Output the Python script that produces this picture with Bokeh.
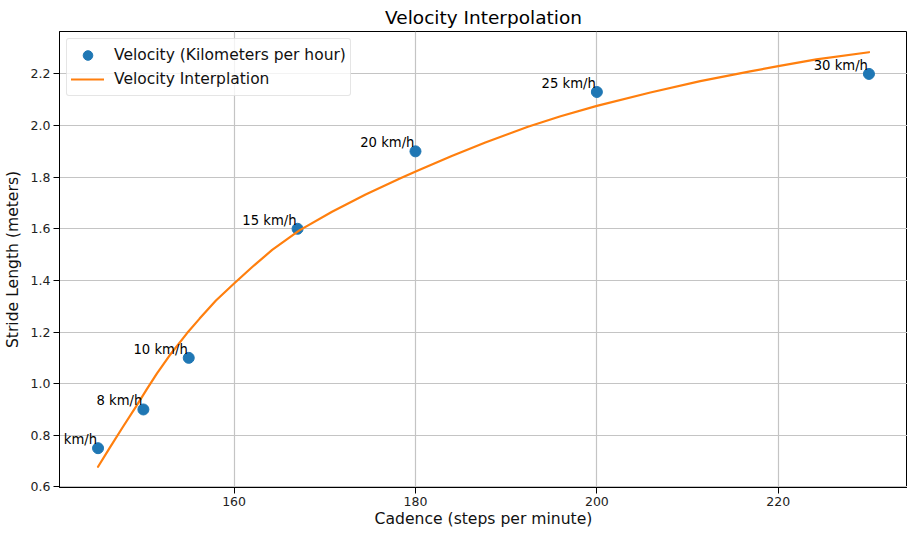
from bokeh.plotting import figure
from bokeh.models import (Range1d, FixedTicker, NumeralTickFormatter, Legend, LegendItem,
                          ColumnDataSource, Label)
from bokeh.embed import file_html
from bokeh.resources import INLINE

# Measured points
cadence = [145, 150, 155, 167, 180, 200, 230]
stride = [0.75, 0.90, 1.10, 1.60, 1.90, 2.13, 2.20]
speed_labels = ["6 km/h", "8 km/h", "10 km/h", "15 km/h", "20 km/h", "25 km/h", "30 km/h"]

# Interpolation curve
curve_cadence = [145.0, 146.3, 147.7, 149.2, 150.4, 151.5, 152.9, 154.8, 156.2, 158.0,
                 160.0, 162.0, 164.2, 167.2, 170.8, 174.5, 178.4, 180.4, 184.0, 187.7,
                 192.4, 196.0, 200.0, 205.9, 211.4, 216.9, 220.0, 224.2, 230.0]
curve_stride = [0.678, 0.752, 0.830, 0.912, 0.980, 1.040, 1.110, 1.195, 1.252, 1.322,
                1.388, 1.452, 1.518, 1.594, 1.666, 1.733, 1.797, 1.828, 1.882, 1.934,
                1.995, 2.036, 2.076, 2.128, 2.172, 2.210, 2.230, 2.256, 2.284]

x_ticks = [160, 180, 200, 220]
y_ticks = [0.6, 0.8, 1.0, 1.2, 1.4, 1.6, 1.8, 2.0, 2.2]

FONT = "DejaVu Sans"

# matplotlib-like 5% autoscale margins
xmin = min(cadence + curve_cadence); xmax = max(cadence + curve_cadence)
ymin = min(stride + curve_stride); ymax = max(stride + curve_stride)
mx = (xmax - xmin) * 0.05; my = (ymax - ymin) * 0.05

p = figure(frame_width=848, frame_height=456, output_backend="svg", toolbar_location=None,
           x_range=Range1d(xmin - mx, xmax + mx), y_range=Range1d(ymin - my, ymax + my),
           title="Velocity Interpolation",
           min_border_left=50, min_border_right=0, min_border_top=0, min_border_bottom=0)

p.title.align = "center"
p.title.text_font = FONT
p.title.text_font_size = "18.5px"
p.title.text_font_style = "normal"
p.title.text_color = "black"
p.title.standoff = 8

p.outline_line_color = "black"
p.outline_line_width = 1
p.background_fill_color = "white"
p.border_fill_color = "white"

for ax in (p.xaxis[0], p.yaxis[0]):
    ax.axis_line_color = "black"
    ax.major_tick_line_color = "black"
    ax.major_tick_out = 6
    ax.major_tick_in = 0
    ax.minor_tick_line_color = None
    ax.major_label_text_font = FONT
    ax.major_label_text_font_size = "12.5px"
    ax.major_label_text_color = "#222222"
    ax.axis_label_text_font = FONT
    ax.axis_label_text_font_size = "15.6px"
    ax.axis_label_text_font_style = "normal"
    ax.axis_label_text_color = "#111111"

p.xaxis.major_label_standoff = 3
p.yaxis.major_label_standoff = 3
p.xaxis.ticker = FixedTicker(ticks=x_ticks)
p.yaxis.ticker = FixedTicker(ticks=y_ticks)
p.yaxis.formatter = NumeralTickFormatter(format="0.0")
p.xaxis.axis_label = "Cadence (steps per minute)"
p.yaxis.axis_label = "Stride Length (meters)"
p.xaxis.axis_label_standoff = 1
p.yaxis.axis_label_standoff = 6

p.xgrid.ticker = FixedTicker(ticks=x_ticks)
p.ygrid.ticker = FixedTicker(ticks=y_ticks)
p.grid.grid_line_color = "#c4c4c4"
p.grid.grid_line_width = 1.2

src = ColumnDataSource(dict(x=cadence, y=stride, t=speed_labels))
pts = p.scatter("x", "y", source=src, size=11, color="#1f77b4", line_color="#1f77b4")
ln = p.line(curve_cadence, curve_stride, line_color="#ff7f0e", line_width=2.2,
            line_join="round", line_cap="round")
for cx, sy, t in zip(cadence, stride, speed_labels):
    p.add_layout(Label(x=cx, y=sy, text=t, text_align="right", text_baseline="bottom",
                       text_font=FONT, text_font_size="13.2px", text_color="black",
                       x_offset=-1, y_offset=1, level="overlay"))

legend = Legend(items=[LegendItem(label="Velocity (Kilometers per hour)", renderers=[pts]),
                       LegendItem(label="Velocity Interplation", renderers=[ln])],
                location="top_left")
legend.margin = 7
legend.padding = 4
legend.spacing = 0
legend.glyph_width = 33
legend.glyph_height = 24
legend.label_standoff = 10
legend.label_text_font = FONT
legend.label_text_font_size = "15.5px"
legend.label_text_color = "#111111"
legend.border_line_color = "#cccccc"
legend.border_line_width = 1
legend.background_fill_alpha = 0.8
legend.border_radius = 3
p.add_layout(legend)

open("out.html", "w").write(file_html(p, INLINE))
